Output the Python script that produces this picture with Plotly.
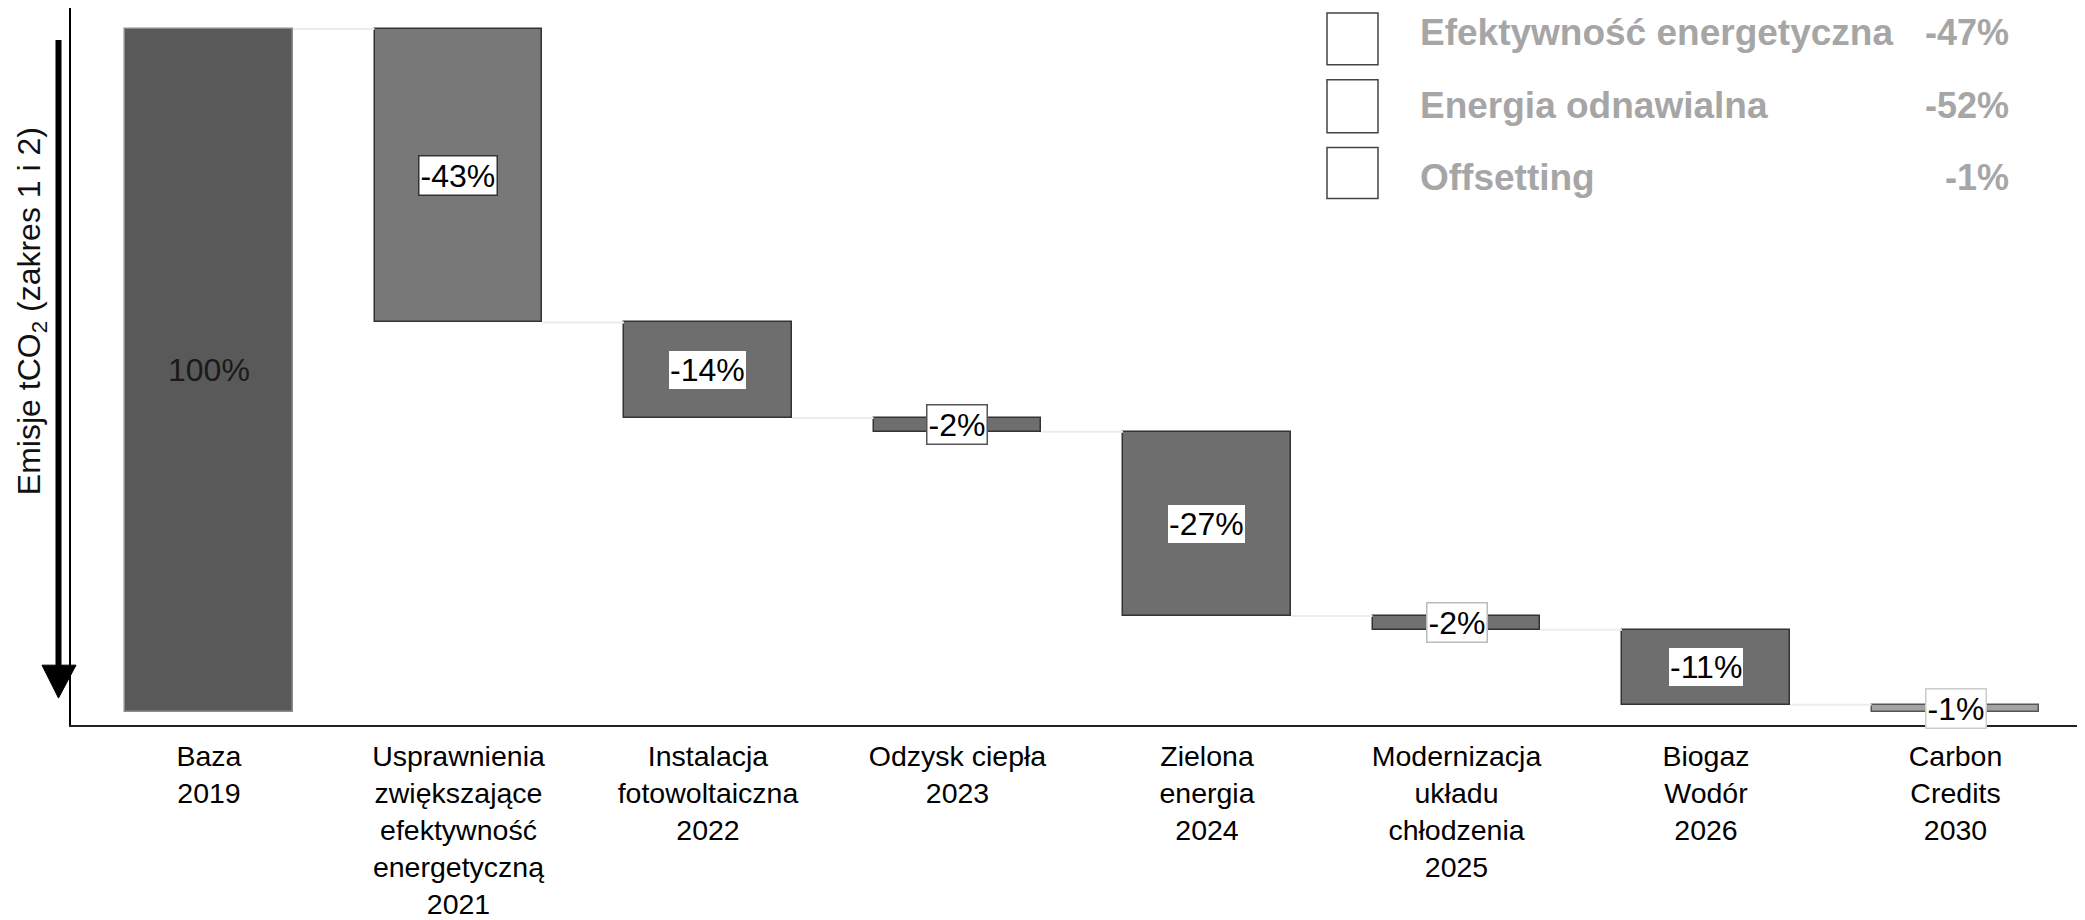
import plotly.graph_objects as go

categories = [
    "Baza<br>2019",
    "Usprawnienia<br>zwiększające<br>efektywność<br>energetyczną<br>2021",
    "Instalacja<br>fotowoltaiczna<br>2022",
    "Odzysk ciepła<br>2023",
    "Zielona<br>energia<br>2024",
    "Modernizacja<br>układu<br>chłodzenia<br>2025",
    "Biogaz<br>Wodór<br>2026",
    "Carbon<br>Credits<br>2030",
]
changes = [100, -43, -14, -2, -27, -2, -11, -1]
bar_colors = ["#595959", "#787878", "#6e6e6e", "#6e6e6e", "#6e6e6e", "#717171", "#6e6e6e", "#a3a3a3"]
edge_colors = ["#8c8c8c", "#333333", "#333333", "#333333", "#333333", "#333333", "#333333", "#555555"]
label_borders = [None, "#333333", None, "#555555", None, "#bbbbbb", None, "#cccccc"]

legend_names = ["Efektywność energetyczna", "Energia odnawialna", "Offsetting"]
legend_values = ["-47%", "-52%", "-1%"]

FONT = "Liberation Sans, Arial, sans-serif"
OFF = 8  # page body margin
W, H = 2085 - OFF, 920 - OFF
# plot area in screen pixels
S_LEFT, S_TOP, S_BOTTOM, S_RIGHT = 71, 8, 727, 2085
ML = S_LEFT - OFF
MT = S_TOP - OFF
MR = (W + OFF) - S_RIGHT
MB = (H + OFF) - S_BOTTOM
PW, PH = S_RIGHT - S_LEFT, S_BOTTOM - S_TOP


def px(xs):
    return (xs - S_LEFT) / PW


def py(ys):
    return (S_BOTTOM - ys) / PH


x = list(range(len(categories)))
bases = []
level = 0
for c in changes:
    if c > 0:
        bases.append(0)
        level = c
    else:
        bases.append(level)
        level += c

bar_w = 0.673
fig = go.Figure()
fig.add_trace(go.Bar(
    x=x, y=changes, base=bases, width=bar_w,
    marker=dict(color=bar_colors, line=dict(color=edge_colors, width=1.5)),
    showlegend=False, hoverinfo="skip",
))

# connectors
cx, cy = [], []
for i in range(len(changes) - 1):
    lvl = bases[i] + changes[i]
    cx += [i + bar_w / 2, i + 1 - bar_w / 2, None]
    cy += [lvl, lvl, None]
fig.add_trace(go.Scatter(x=cx, y=cy, mode="lines", line=dict(color="#ececec", width=2),
                         showlegend=False, hoverinfo="skip"))

annotations = []
for i, c in enumerate(changes):
    mid = bases[i] + c / 2
    txt = f"{c}%"
    b = label_borders[i]
    if i == 0:
        annotations.append(dict(x=i, y=mid, xref="x", yref="y", text=txt, showarrow=False,
                                font=dict(family=FONT, size=32, color="#1a1a1a")))
    else:
        annotations.append(dict(x=i, y=mid, xref="x", yref="y", text=txt, showarrow=False,
                                font=dict(family=FONT, size=32, color="#000000"),
                                bgcolor="#ffffff", bordercolor=b if b else "rgba(0,0,0,0)",
                                borderwidth=1.5 if b else 0, borderpad=1))

# y-axis title
annotations.append(dict(x=px(31), y=py(312), xref="paper", yref="paper",
                        text="Emisje tCO<sub>2</sub> (zakres 1 i 2)", textangle=-90,
                        showarrow=False, font=dict(family=FONT, size=32, color="#111111"),
                        xanchor="center", yanchor="middle"))

shapes = []
# arrow
shapes.append(dict(type="line", xref="paper", yref="paper", x0=px(58.5), x1=px(58.5),
                   y0=py(40), y1=py(668), line=dict(color="#000000", width=6)))
shapes.append(dict(type="path", xref="paper", yref="paper",
                   path=f"M {px(42)} {py(667)} L {px(76)} {py(667)} L {px(58.5)} {py(700)} Z",
                   fillcolor="#000000", line=dict(color="#000000", width=1)))

# manual legend
rows = [(13, 65), (80, 133), (148, 199)]
text_centers = [33, 106, 178]
for (y0, y1), yc, name, val in zip(rows, text_centers, legend_names, legend_values):
    shapes.append(dict(type="rect", xref="paper", yref="paper", x0=px(1327), x1=px(1378),
                       y0=py(y1), y1=py(y0), fillcolor="#ffffff", line=dict(color="#444444", width=1.5)))
    annotations.append(dict(x=px(1418), y=py(yc), xref="paper", yref="paper", text=f"<b>{name}</b>",
                            showarrow=False, xanchor="left", yanchor="middle",
                            font=dict(family=FONT, size=37, color="#a6a6a6")))
    annotations.append(dict(x=px(2011), y=py(yc), xref="paper", yref="paper", text=f"<b>{val}</b>",
                            showarrow=False, xanchor="right", yanchor="middle",
                            font=dict(family=FONT, size=36, color="#a6a6a6")))

# y range: value 100 at screen y=29, 0 at screen y=713.5
unit = (713.5 - 29) / 100
y_top = 100 + (29 - S_TOP) / unit
y_bot = -(S_BOTTOM - 713.5) / unit

fig.update_layout(
    width=W, height=H,
    margin=dict(l=ML, r=MR, t=MT, b=MB, pad=0),
    plot_bgcolor="#ffffff", paper_bgcolor="#ffffff",
    showlegend=False,
    annotations=annotations, shapes=shapes,
    bargap=0,
)
fig.update_xaxes(range=[-0.553, 7.519], tickvals=x, ticktext=categories, showgrid=False,
                 zeroline=False, showline=True, linecolor="#222222", linewidth=2, ticks="",
                 ticklabelstandoff=5,
                 tickfont=dict(family=FONT, size=28.5, color="#000000"))
fig.update_yaxes(range=[y_bot, y_top], showgrid=False, zeroline=False, showticklabels=False,
                 showline=True, linecolor="#000000", linewidth=2, ticks="")

fig.write_html("out.html")
